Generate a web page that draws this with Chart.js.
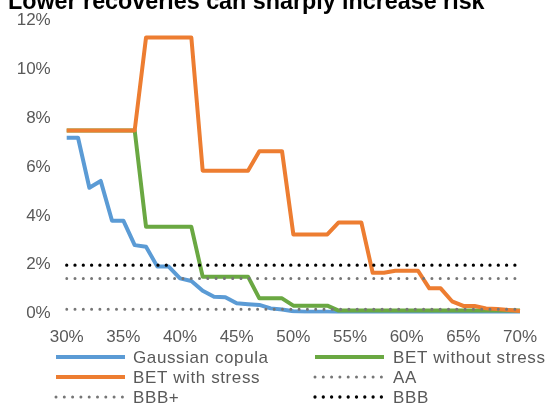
<!DOCTYPE html>
<html>
<head>
<meta charset="utf-8">
<script src="https://cdn.jsdelivr.net/npm/chart.js@4.4.1/dist/chart.umd.min.js"></script>
<style>
  html, body { margin: 0; padding: 0; background: #ffffff; }
  #wrap { position: relative; width: 551px; height: 405px; }
</style>
</head>
<body>
<div id="wrap"><canvas id="c" width="551" height="405"></canvas></div>
<script>
const titleText = 'Lower recoveries can sharply increase risk';

const categories = ['30%','31%','32%','33%','34%','35%','36%','37%','38%','39%',
                    '40%','41%','42%','43%','44%','45%','46%','47%','48%','49%',
                    '50%','51%','52%','53%','54%','55%','56%','57%','58%','59%',
                    '60%','61%','62%','63%','64%','65%','66%','67%','68%','69%','70%'];

const shownTickLabels = ['30%','35%','40%','45%','50%','55%','60%','65%','70%'];

const gaussianCopula = [7.2,7.2,5.15,5.43,3.8,3.8,2.8,2.73,1.92,1.92,
                        1.44,1.33,0.93,0.69,0.67,0.42,0.38,0.35,0.21,0.16,
                        0.09,0.07,0.07,0.07,0.06,0.05,0.05,0.04,0.04,0.03,
                        0.03,0.03,0.02,0.02,0.02,0.02,0.01,0.01,0.01,0.01,0.01];

const betWithoutStress = [7.5,7.5,7.5,7.5,7.5,7.5,7.5,3.55,3.55,3.55,
                          3.55,3.55,1.51,1.51,1.51,1.51,1.51,0.62,0.62,0.62,
                          0.32,0.32,0.32,0.32,0.12,0.12,0.12,0.12,0.12,0.12,
                          0.12,0.12,0.12,0.12,0.12,0.12,0.12,0.12,0.12,0.12,0.12];

const betWithStress = [7.5,7.5,7.5,7.5,7.5,7.5,7.5,11.3,11.3,11.3,
                       11.3,11.3,5.85,5.85,5.85,5.85,5.85,6.65,6.65,6.65,
                       3.24,3.24,3.24,3.24,3.73,3.73,3.73,1.67,1.67,1.75,
                       1.75,1.75,1.03,1.03,0.5,0.31,0.31,0.21,0.18,0.14,0.1];

const levelAA = 0.17;
const levelBBBplus = 1.43;
const levelBBB = 1.98;

const yTicks = [0, 2, 4, 6, 8, 10, 12];

const FONT = '"Liberation Sans", Arial, sans-serif';
const TEXT_COLOR = '#595959';

function flatLine(level) {
  return [{x: categories[0], y: level}, {x: categories[categories.length - 1], y: level}];
}

const datasets = [
  { label: 'Gaussian copula', data: gaussianCopula, borderColor: '#5B9BD5', borderWidth: 4, order: 6 },
  { label: 'BET without stress', data: betWithoutStress, borderColor: '#6AA842', borderWidth: 4, order: 5 },
  { label: 'BET with stress', data: betWithStress, borderColor: '#ED7D31', borderWidth: 4, order: 4 },
  { label: 'AA', data: flatLine(levelAA), borderColor: '#767676', borderWidth: 3, borderDash: [0, 8.3], borderCapStyle: 'round', order: 3 },
  { label: 'BBB+', data: flatLine(levelBBBplus), borderColor: '#767676', borderWidth: 3, borderDash: [0, 8.3], borderCapStyle: 'round', order: 2 },
  { label: 'BBB', data: flatLine(levelBBB), borderColor: '#000000', borderWidth: 3.3, borderDash: [0, 8.3], borderCapStyle: 'round', order: 1 }
];
datasets.forEach(d => {
  d.fill = false; d.pointRadius = 0; d.pointHoverRadius = 0; d.tension = 0;
  d.borderJoinStyle = 'round'; d.backgroundColor = d.borderColor;
});

const titlePlugin = {
  id: 'cutTitle',
  afterDraw(chart) {
    const ctx = chart.ctx;
    ctx.save();
    ctx.font = 'bold 23.3px ' + FONT;
    ctx.fillStyle = '#000000';
    ctx.textBaseline = 'alphabetic';
    ctx.textAlign = 'left';
    ctx.fillText(titleText, 8, 9);
    ctx.restore();
  }
};

const legendPlugin = {
  id: 'gridLegend',
  afterDraw(chart) {
    const ctx = chart.ctx;
    const cols = [{x0: 56, x1: 125, tx: 133}, {x0: 315, x1: 384, tx: 393}];
    const rows = [357, 377, 397];
    ctx.save();
    ctx.font = '17px ' + FONT;
    try { ctx.letterSpacing = '0.6px'; } catch (e) {}
    ctx.textBaseline = 'middle';
    ctx.textAlign = 'left';
    chart.data.datasets.forEach((ds, i) => {
      const col = cols[i % 2];
      const y = rows[Math.floor(i / 2)];
      ctx.beginPath();
      ctx.strokeStyle = ds.borderColor;
      ctx.lineWidth = ds.borderWidth;
      ctx.lineCap = ds.borderDash ? 'round' : 'butt';
      ctx.setLineDash(ds.borderDash || []);
      ctx.moveTo(col.x0, y);
      ctx.lineTo(col.x1, y);
      ctx.stroke();
      ctx.setLineDash([]);
      ctx.fillStyle = TEXT_COLOR;
      ctx.fillText(ds.label, col.tx, y + 1);
    });
    ctx.restore();
  }
};

new Chart(document.getElementById('c'), {
  type: 'line',
  data: { labels: categories, datasets: datasets },
  options: {
    responsive: false,
    animation: false,
    devicePixelRatio: 1,
    layout: { padding: { top: 20.5, right: 21, bottom: 61.5, left: 0 } },
    plugins: { legend: { display: false }, title: { display: false }, tooltip: { enabled: false } },
    scales: {
      x: {
        type: 'category',
        offset: false,
        grid: { display: false, drawTicks: false },
        border: { display: false },
        afterFit(scale) { scale.height = 30; },
        ticks: {
          autoSkip: false, maxRotation: 0, minRotation: 0, padding: 14,
          color: TEXT_COLOR, font: { family: FONT, size: 17 },
          callback(value) {
            const lab = categories[value];
            return shownTickLabels.includes(lab) ? lab : '';
          }
        }
      },
      y: {
        min: 0, max: 12,
        afterBuildTicks(scale) { scale.ticks = yTicks.map(v => ({ value: v })); },
        grid: { display: false, drawTicks: false },
        border: { display: false },
        afterFit(scale) { scale.width = 66.7; scale.paddingTop = 0; scale.paddingBottom = 0; },
        ticks: {
          padding: 16,
          color: TEXT_COLOR, font: { family: FONT, size: 17 },
          callback(value) { return value + '%'; }
        }
      }
    }
  },
  plugins: [titlePlugin, legendPlugin]
});
</script>
</body>
</html>
